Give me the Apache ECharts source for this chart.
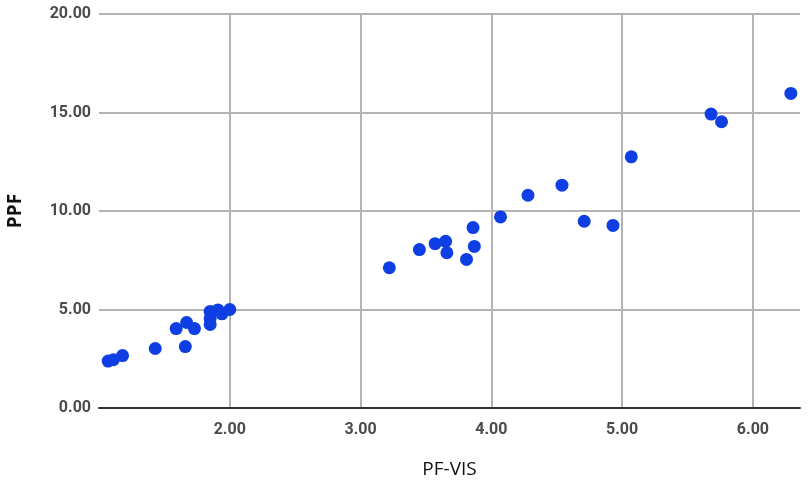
<!DOCTYPE html>
<html>
<head>
<meta charset="utf-8">
<script src="https://cdn.jsdelivr.net/npm/echarts@6/dist/echarts.min.js"></script>
<style>
html,body{margin:0;padding:0;background:#fff;}
#chart{width:810px;height:484px;}
</style>
</head>
<body>
<div id="chart"></div>
<script>
// PF-VIS values (x) and PPF values (y)
var pfVis = [1.07, 1.11, 1.18, 1.43, 1.59, 1.67, 1.66, 1.73, 1.85, 1.85, 1.85, 1.91, 1.94, 2.00,
             3.22, 3.45, 3.57, 3.65, 3.66, 3.81, 3.86, 3.87, 4.07, 4.28, 4.54, 4.71, 4.93, 5.07,
             5.68, 5.76, 6.29];
var ppf   = [2.38, 2.45, 2.66, 3.02, 4.03, 4.34, 3.12, 4.03, 4.90, 4.54, 4.24, 4.98, 4.78, 5.00,
             7.12, 8.04, 8.34, 8.46, 7.88, 7.54, 9.16, 8.20, 9.70, 10.80, 11.31, 9.48, 9.27, 12.75,
             14.92, 14.53, 15.97];
var xTitle = 'PF-VIS';
var yTitle = 'PPF';

var points = pfVis.map(function (x, i) { return [x, ppf[i]]; });

var chart = echarts.init(document.getElementById('chart'), null, {renderer: 'canvas'});
chart.setOption({
  animation: false,
  backgroundColor: '#ffffff',
  grid: {left: 99, right: 10, top: 14, bottom: 76, containLabel: false, outerBoundsMode: 'none'},
  xAxis: {
    type: 'value',
    min: 1, max: 6.36, interval: 1,
    name: xTitle, nameLocation: 'middle', nameGap: 52,
    nameTextStyle: {fontFamily: 'Open Sans', fontSize: 19, color: '#111'},
    axisLine: {show: true, onZero: true, lineStyle: {color: '#333', width: 2}},
    axisTick: {show: false},
    axisLabel: {
      showMinLabel: false, showMaxLabel: false, margin: 14,
      fontFamily: 'Roboto', fontSize: 16, fontWeight: 'bold', color: '#4a4a4a',
      formatter: function (v) { return v.toFixed(2); }
    },
    splitLine: {show: true, showMinLine: false, showMaxLine: false, lineStyle: {color: '#b4b4b4', width: 2}}
  },
  yAxis: {
    type: 'value',
    min: 0, max: 20, interval: 5,
    name: yTitle, nameLocation: 'middle', nameGap: 74, nameRotate: 90,
    nameTextStyle: {fontFamily: 'Open Sans', fontSize: 19, fontWeight: 'bold', color: '#111'},
    axisLine: {show: false},
    axisTick: {show: false},
    axisLabel: {
      margin: 8,
      fontFamily: 'Roboto', fontSize: 16, fontWeight: 'bold', color: '#4a4a4a',
      formatter: function (v) { return v.toFixed(2); }
    },
    splitLine: {show: true, lineStyle: {color: '#b4b4b4', width: 2}}
  },
  series: [{
    type: 'scatter',
    data: points,
    symbol: 'circle',
    symbolSize: 13,
    itemStyle: {color: '#0f3fe3', opacity: 1}
  }]
});
</script>
</body>
</html>
